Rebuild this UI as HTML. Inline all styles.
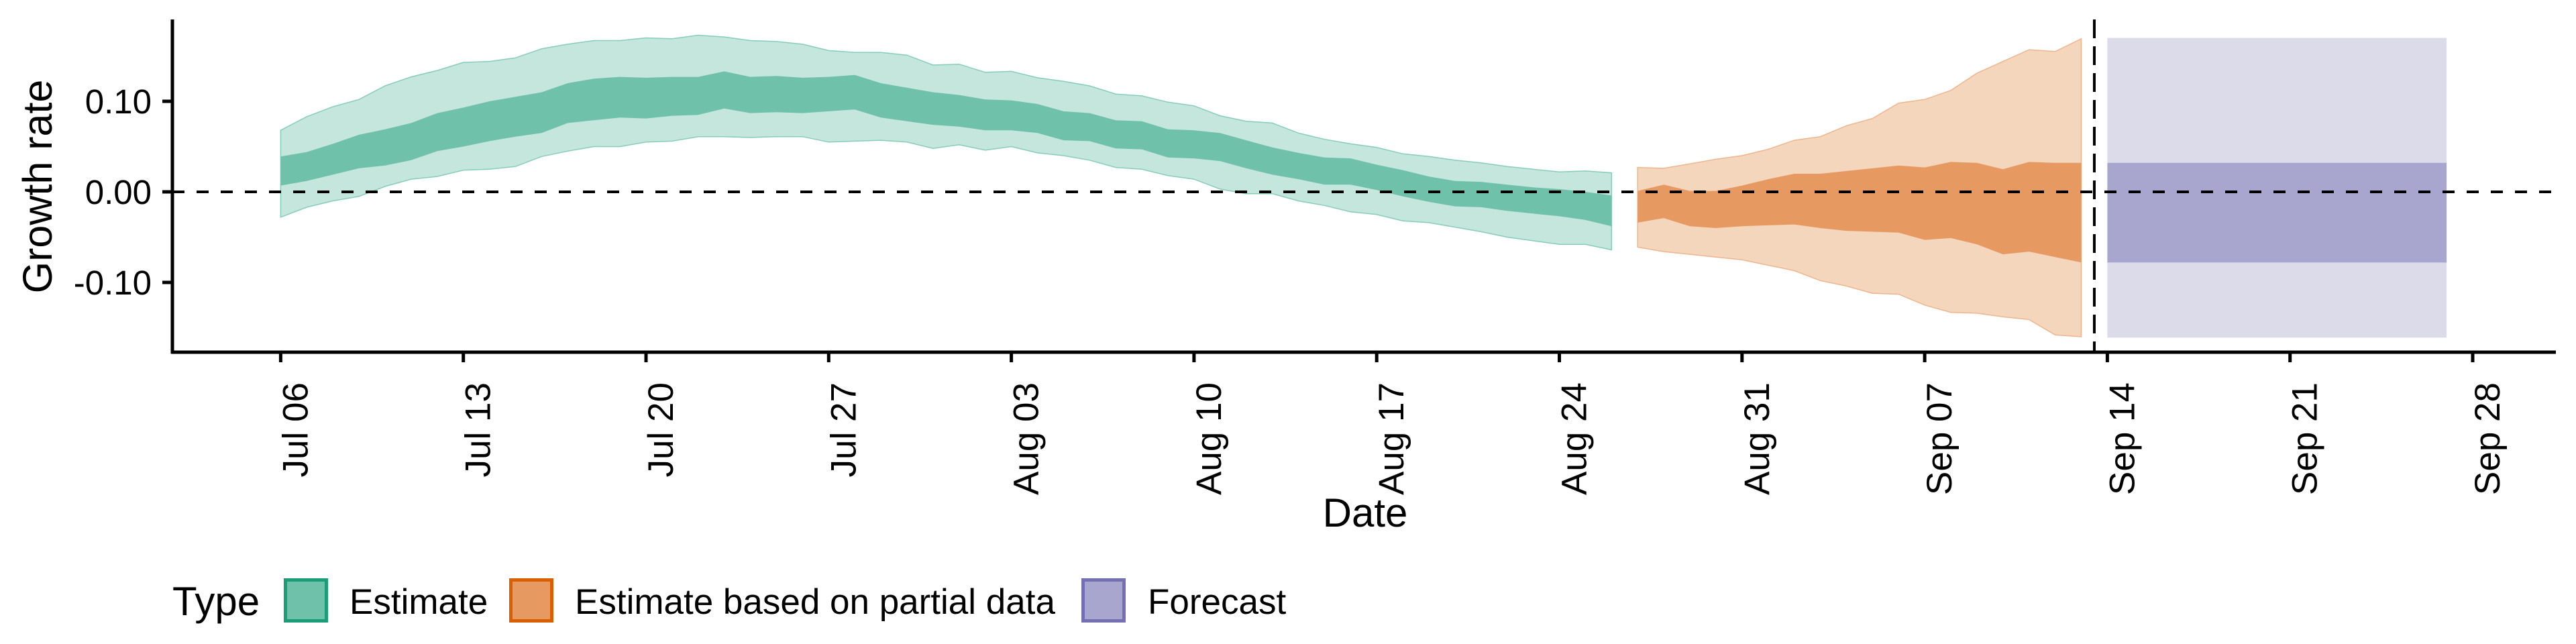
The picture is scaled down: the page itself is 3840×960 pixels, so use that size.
<!DOCTYPE html>
<html><head><meta charset="utf-8"><title>Growth rate</title>
<style>html,body{margin:0;padding:0;background:#fff;}svg{display:block;font-family:"Liberation Sans",Arial,sans-serif;}</style>
</head><body>
<svg id="chart" xmlns="http://www.w3.org/2000/svg" width="3840" height="960" viewBox="0 0 3840 960">
<g id="bands"></g>
<g id="axes"></g>
<g id="legend"></g>
</svg>
<script>
const tickLabels = ["Jul 06","Jul 13","Jul 20","Jul 27","Aug 03","Aug 10","Aug 17","Aug 24","Aug 31","Sep 07","Sep 14","Sep 21","Sep 28"];
const tickDays = [0,7,14,21,28,35,42,49,56,63,70,77,84];
const yTicks = [0.10, 0.00, -0.10];
const yTickLabels = ["0.10","0.00","-0.10"];
const estStart = 0;
const estOuterHi = [0.068,0.083,0.094,0.102,0.117,0.127,0.134,0.143,0.144,0.148,0.158,0.163,0.167,0.167,0.170,0.169,0.173,0.171,0.167,0.166,0.163,0.156,0.154,0.154,0.151,0.140,0.141,0.132,0.133,0.126,0.122,0.117,0.108,0.106,0.099,0.095,0.084,0.078,0.076,0.065,0.058,0.053,0.049,0.042,0.039,0.035,0.032,0.028,0.025,0.022,0.023,0.021];
const estInnerHi = [0.039,0.044,0.053,0.063,0.069,0.076,0.087,0.093,0.100,0.105,0.110,0.120,0.125,0.127,0.126,0.127,0.127,0.133,0.127,0.128,0.126,0.127,0.129,0.120,0.115,0.110,0.107,0.102,0.101,0.097,0.089,0.087,0.079,0.078,0.069,0.068,0.065,0.057,0.049,0.043,0.038,0.037,0.030,0.024,0.017,0.012,0.011,0.008,0.005,0.003,0.000,-0.004];
const estInnerLo = [0.007,0.012,0.019,0.026,0.029,0.035,0.045,0.050,0.056,0.061,0.065,0.076,0.079,0.082,0.081,0.084,0.085,0.092,0.087,0.088,0.087,0.089,0.091,0.082,0.078,0.074,0.072,0.068,0.068,0.065,0.057,0.056,0.048,0.047,0.038,0.037,0.034,0.026,0.019,0.014,0.008,0.008,0.002,-0.005,-0.011,-0.016,-0.017,-0.021,-0.024,-0.027,-0.031,-0.038];
const estOuterLo = [-0.028,-0.017,-0.010,-0.005,0.006,0.014,0.017,0.024,0.025,0.028,0.039,0.045,0.050,0.050,0.055,0.056,0.061,0.061,0.060,0.061,0.061,0.055,0.056,0.057,0.055,0.048,0.052,0.046,0.050,0.043,0.040,0.035,0.027,0.025,0.018,0.014,0.003,-0.002,-0.002,-0.010,-0.015,-0.022,-0.025,-0.032,-0.034,-0.039,-0.044,-0.050,-0.054,-0.058,-0.058,-0.064];
const partStart = 52;
const partOuterHi = [0.027,0.026,0.031,0.036,0.040,0.047,0.057,0.061,0.073,0.081,0.098,0.102,0.112,0.131,0.144,0.157,0.155,0.169];
const partInnerHi = [0.001,0.008,0.001,0.001,0.007,0.014,0.020,0.020,0.023,0.026,0.029,0.027,0.033,0.032,0.025,0.033,0.032,0.032];
const partInnerLo = [-0.034,-0.029,-0.038,-0.040,-0.038,-0.037,-0.036,-0.040,-0.043,-0.044,-0.045,-0.053,-0.051,-0.058,-0.069,-0.066,-0.072,-0.078];
const partOuterLo = [-0.061,-0.066,-0.069,-0.072,-0.075,-0.081,-0.087,-0.098,-0.104,-0.112,-0.113,-0.125,-0.133,-0.134,-0.138,-0.141,-0.158,-0.160];
const fcStart = 70;
const fcEnd = 83;
const fcOuterHi = [0.170];
const fcInnerHi = [0.032];
const fcInnerLo = [-0.078];
const fcOuterLo = [-0.161];
const cutoffDay = 69;

const NS = "http://www.w3.org/2000/svg";
const X0 = 418.4, PXDAY = 38.9, Y0 = 286, PXUNIT = 1350;
function xs(d){ return X0 + d*PXDAY; }
function ys(v){ return Y0 - v*PXUNIT; }
function mk(tag, attrs, parent){ const e=document.createElementNS(NS,tag); for(const k in attrs) e.setAttribute(k,attrs[k]); parent.appendChild(e); return e; }

const bands = document.getElementById('bands');
function ribbon(start, hi, lo, fill, stroke, name){
  let pts=[];
  for(let i=0;i<hi.length;i++) pts.push(xs(start+i).toFixed(1)+','+ys(hi[i]).toFixed(1));
  for(let i=lo.length-1;i>=0;i--) pts.push(xs(start+i).toFixed(1)+','+ys(lo[i]).toFixed(1));
  const p = mk('polygon',{points:pts.join(' '),fill:fill,stroke:stroke||'none','stroke-width':stroke?1.5:0},bands);
  
  
}
ribbon(estStart, estOuterHi, estOuterLo, '#c5e6dc', '#86cdb7', 'estimate-outer-band');
ribbon(estStart, estInnerHi, estInnerLo, '#6fc1a9', null, 'estimate-inner-band');
ribbon(partStart, partOuterHi, partOuterLo, '#f4d6bd', '#eeb58c', 'partial-outer-band');
ribbon(partStart, partInnerHi, partInnerLo, '#e69a62', null, 'partial-inner-band');
function fc(hi, lo, fill, name){
  const x1=xs(fcStart), x2=xs(fcEnd);
  const r = mk('rect',{x:x1,y:ys(hi[0]),width:x2-x1,height:ys(lo[0])-ys(hi[0]),fill:fill},bands);
  
  
}
fc(fcOuterHi, fcOuterLo, '#dcdbea', 'forecast-outer-band');
fc(fcInnerHi, fcInnerLo, '#a8a5cf', 'forecast-inner-band');

const axes = document.getElementById('axes');
const zl = mk('line',{x1:257,x2:3810,y1:ys(0),y2:ys(0),stroke:'#000','stroke-width':4,'stroke-dasharray':'18,18'},axes);


const cl = mk('line',{x1:(xs(cutoffDay)+xs(cutoffDay+1))/2,x2:(xs(cutoffDay)+xs(cutoffDay+1))/2,y1:29,y2:525,stroke:'#000','stroke-width':4,'stroke-dasharray':'28,12'},axes);


const ya = mk('line',{x1:257,x2:257,y1:29,y2:527,stroke:'#000','stroke-width':5},axes);


const xa = mk('line',{x1:255,x2:3810,y1:525,y2:525,stroke:'#000','stroke-width':5},axes);


for(let i=0;i<yTicks.length;i++){
  const y=ys(yTicks[i]);
  const t = mk('line',{x1:242,x2:257,y1:y,y2:y,stroke:'#000','stroke-width':5},axes);
  
  
  const lb = mk('text',{x:226,y:y+18,'text-anchor':'end','font-size':51,fill:'#000'},axes);
  lb.textContent = yTickLabels[i];
  
  
}
for(let i=0;i<tickDays.length;i++){
  const x=xs(tickDays[i]);
  const t = mk('line',{x1:x,x2:x,y1:525,y2:540,stroke:'#000','stroke-width':5},axes);
  
  
  const lb = mk('text',{x:0,y:0,'text-anchor':'end','font-size':53,fill:'#000',transform:'translate('+(x+40)+',570) rotate(-90)'},axes);
  lb.textContent = tickLabels[i];
  
  
}
const yt = mk('text',{x:0,y:0,'text-anchor':'middle','font-size':61,fill:'#000',transform:'translate(77,278) rotate(-90)'},axes);
yt.textContent = 'Growth rate';


const xt = mk('text',{x:2035,y:785,'text-anchor':'middle','font-size':60,fill:'#000'},axes);
xt.textContent = 'Date';



const legend = document.getElementById('legend');
const lt = mk('text',{x:257,y:917,'font-size':60,fill:'#000'},legend);
lt.textContent = 'Type';


const legendItems = [
  {x:423, tx:521, fill:'#6fc1a9', stroke:'#1b9e77', label:'Estimate', name:'legend-entry-estimate'},
  {x:759, tx:857, fill:'#e69a62', stroke:'#d95f02', label:'Estimate based on partial data', name:'legend-entry-partial'},
  {x:1612, tx:1711, fill:'#a8a5cf', stroke:'#7570b3', label:'Forecast', name:'legend-entry-forecast'}
];
for(const it of legendItems){
  const g = mk('g',{},legend);
  
  
  const r = mk('rect',{x:it.x+2.5,y:864.5,width:61,height:61,fill:it.fill,stroke:it.stroke,'stroke-width':5},g);
  
  
  const tx = mk('text',{x:it.tx,y:915,'font-size':53,fill:'#000'},g);
  tx.textContent = it.label;
  
  
}
</script>
</body></html>
